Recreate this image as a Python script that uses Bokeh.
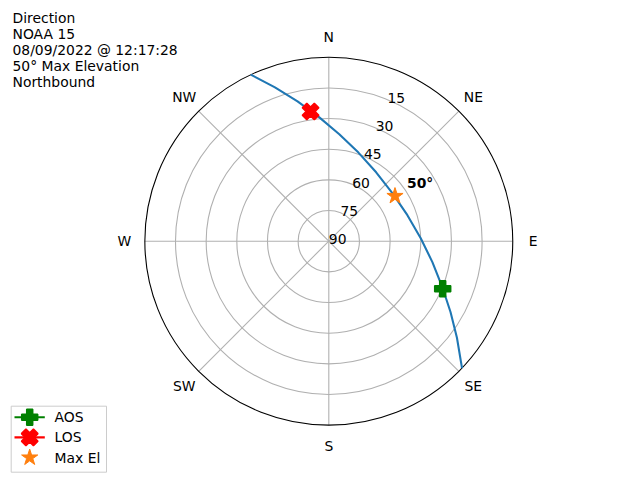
import numpy as np
from bokeh.plotting import figure
from bokeh.core.properties import value
from bokeh.embed import file_html
from bokeh.resources import INLINE

# ---------------- data ----------------
title_lines = ["Direction", "NOAA 15", "08/09/2022 @ 12:17:28", "50° Max Elevation", "Northbound"]

track_az = [133.6, 127.0, 120.2, 111.9, 101.4, 88.2, 71.7, 53.1, 34.5, 18.5,
            5.6, 355.5, 347.4, 340.7, 334.9]
track_el = [0.0, 11.5, 21.1, 30.2, 38.3, 45.0, 49.5, 51.0, 49.1, 44.3,
            37.4, 29.1, 19.9, 10.3, 0.0]

aos_az = [112.7]
aos_el = [29.6]
los_az = [352.0]
los_el = [25.9]
max_az = [55.7]
max_el = [50.8]
max_label = ["50°"]

ring_el = [75, 60, 45, 30, 15]
ring_label_el = [15, 30, 45, 60, 75, 90]
ring_labels = ["15", "30", "45", "60", "75", "90"]
compass_az = [0, 45, 90, 135, 180, 225, 270, 315]
compass_labels = ["N", "NE", "E", "SE", "S", "SW", "W", "NW"]
legend_labels = ["AOS", "LOS", "Max El"]

# ---------------- layout ----------------
W, H = 640, 480
CX, CY = 328.3, 240.7      # pixel position of the pole
SCALE = 2.044              # pixels per degree of zenith distance
xs = -CX / SCALE
xe = (W - CX) / SCALE
ye = CY / SCALE
ys = -(H - CY) / SCALE

FONT = value("DejaVu Sans")
FS = "13.9px"


def polar(az, el):
    a = np.radians(np.asarray(az, dtype=float))
    r = 90.0 - np.asarray(el, dtype=float)
    return r * np.sin(a), r * np.cos(a)


def pix(xp, yp):
    xp = np.asarray(xp, dtype=float)
    yp = np.asarray(yp, dtype=float)
    return xs + xp / SCALE, ye - yp / SCALE


p = figure(width=W, height=H, x_range=(xs, xe), y_range=(ys, ye),
           output_backend="svg", toolbar_location=None, min_border=0,
           x_axis_location=None, y_axis_location=None)
p.grid.visible = False
p.outline_line_color = None
p.background_fill_color = "white"
p.border_fill_color = "white"

# grid rings and spokes
n = len(ring_el)
p.circle(x=[0] * n, y=[0] * n, radius=[90 - e for e in ring_el],
         fill_color=None, line_color="#b0b0b0", line_width=1.1)
sx, sy = polar(compass_az, [0] * len(compass_az))
p.segment(x0=[0] * len(sx), y0=[0] * len(sy), x1=sx, y1=sy,
          line_color="#b0b0b0", line_width=1.1)
# outer spine
p.circle(x=[0], y=[0], radius=[90], fill_color=None, line_color="black", line_width=1.1)

# compass labels
cx, cy = polar(compass_az, [-10] * len(compass_az))
p.text(x=cx, y=cy, text=compass_labels, text_align="center", text_baseline="middle",
       text_font=FONT, text_font_size=FS, text_color="black")

# radial labels
rx, ry = polar([22.5] * len(ring_label_el), ring_label_el)
p.text(x=rx, y=ry, text=ring_labels, text_align="left", text_baseline="alphabetic",
       y_offset=-2, text_font=FONT, text_font_size=FS, text_color="black")

# track
tx, ty = polar(track_az, track_el)
p.line(tx, ty, line_color="#1f77b4", line_width=2.08, line_join="round")

# markers
ax_, ay_ = polar(aos_az, aos_el)
p.scatter(ax_, ay_, marker="plus", size=16, fill_color="green", line_color="green", line_width=1.5)
lx, ly = polar(los_az, los_el)
p.scatter(lx, ly, marker="plus", angle=np.pi / 4, size=17, fill_color="red", line_color="red", line_width=1.5)
mx, my = polar(max_az, max_el)
p.scatter(mx, my, marker="star", size=17, fill_color="#ff7f0e", line_color="#ff7f0e", line_width=1)
p.text(x=mx, y=my, text=max_label, x_offset=12, y_offset=-13, text_align="left",
       text_baseline="middle", text_font=FONT, text_font_size=FS, text_font_style="bold",
       text_color="black")

# title block
tlx, tly = pix([12] * len(title_lines), [17.4 + 16.1 * i for i in range(len(title_lines))])
p.text(x=tlx, y=tly, text=title_lines, text_align="left", text_baseline="alphabetic",
       text_font=FONT, text_font_size=FS, text_color="black")

# legend (drawn manually to match marker sizes)
bx0, by0 = pix(10.7, 405.7)
bx1, by1 = pix(106, 471.7)
p.quad(left=[bx0], right=[bx1], top=[by0], bottom=[by1], fill_color="white",
       fill_alpha=0.8, line_color="#cccccc", line_width=1)
row_y = [416.7 + 20.2 * i for i in range(3)]
l0x, _ = pix(14, 0)
l1x, _ = pix(44.3, 0)
kx, _ = pix(29.2, 0)
_, r0 = pix(0, row_y[0])
_, r1 = pix(0, row_y[1])
_, r2 = pix(0, row_y[2])
p.line([l0x, l1x], [r0, r0], line_color="green", line_width=2.08)
p.scatter([kx], [r0], marker="plus", size=16, fill_color="green", line_color="green", line_width=1.5)
p.line([l0x, l1x], [r1, r1], line_color="red", line_width=2.08)
p.scatter([kx], [r1], marker="plus", angle=np.pi / 4, size=17, fill_color="red", line_color="red", line_width=1.5)
p.scatter([kx], [r2], marker="star", size=17, fill_color="#ff7f0e", line_color="#ff7f0e", line_width=1)
lbx, lby = pix([54] * 3, row_y)
p.text(x=lbx, y=lby, text=legend_labels, text_align="left", text_baseline="middle",
       text_font=FONT, text_font_size=FS, text_color="black")

open("out.html", "w").write(file_html(p, INLINE))
